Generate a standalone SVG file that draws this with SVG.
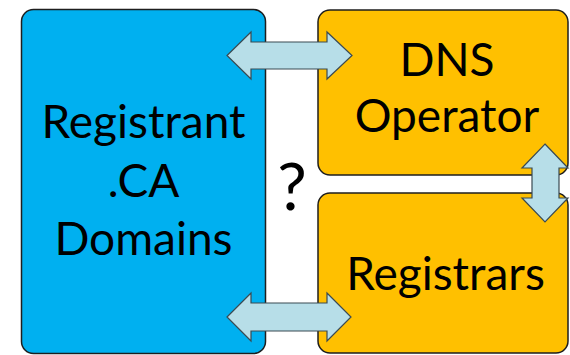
<svg xmlns="http://www.w3.org/2000/svg" width="570" height="355" viewBox="0 0 570 355">
<style>
.box{stroke:#1e1e1e;stroke-width:1.5}
.blue{fill:#00B0F0}
.orange{fill:#FFC000}
.lbl{font-family:Lato,"Liberation Sans",sans-serif;font-size:46px;fill:#000;text-anchor:middle}
.arrow{fill:#B7DEE8;stroke:#3a4a52;stroke-width:1.2;stroke-linejoin:miter}
</style>
<rect width="570" height="355" fill="#fff"/>
<g id="registrant">
<rect class="box blue" x="21.5" y="9.5" width="244" height="344" rx="12"/>
<text class="lbl" x="143.5" y="138">Registrant</text>
<text class="lbl" x="143.5" y="197">.CA</text>
<text class="lbl" x="143.5" y="255">Domains</text>
</g>
<g id="dns-operator">
<rect class="box orange" x="318" y="10" width="250" height="165" rx="12"/>
<text class="lbl" x="447" y="75.5">DNS</text>
<text class="lbl" x="447" y="132">Operator</text>
</g>
<g id="registrars">
<rect class="box orange" x="318" y="193" width="250" height="160" rx="12"/>
<text class="lbl" x="445.5" y="290">Registrars</text>
</g>
<g id="question">
<text x="292" y="210" style="font-family:Lato,'Liberation Sans',sans-serif;font-size:66px;fill:#000;text-anchor:middle">?</text>
</g>
<g id="connectors">
<polygon class="arrow" points="227,55.5 251,32 251,42 327,42 327,32 352,55.5 327,79 327,69 251,69 251,79"/>
<polygon class="arrow" points="227,317 251,293 251,303 327,303 327,293 351,317 327,341 327,331 251,331 251,341"/>
<polygon class="arrow" points="545,144 568,168 559,168 559,198 568,198 545,222 522,198 532,198 532,168 522,168"/>
</g>
</svg>
